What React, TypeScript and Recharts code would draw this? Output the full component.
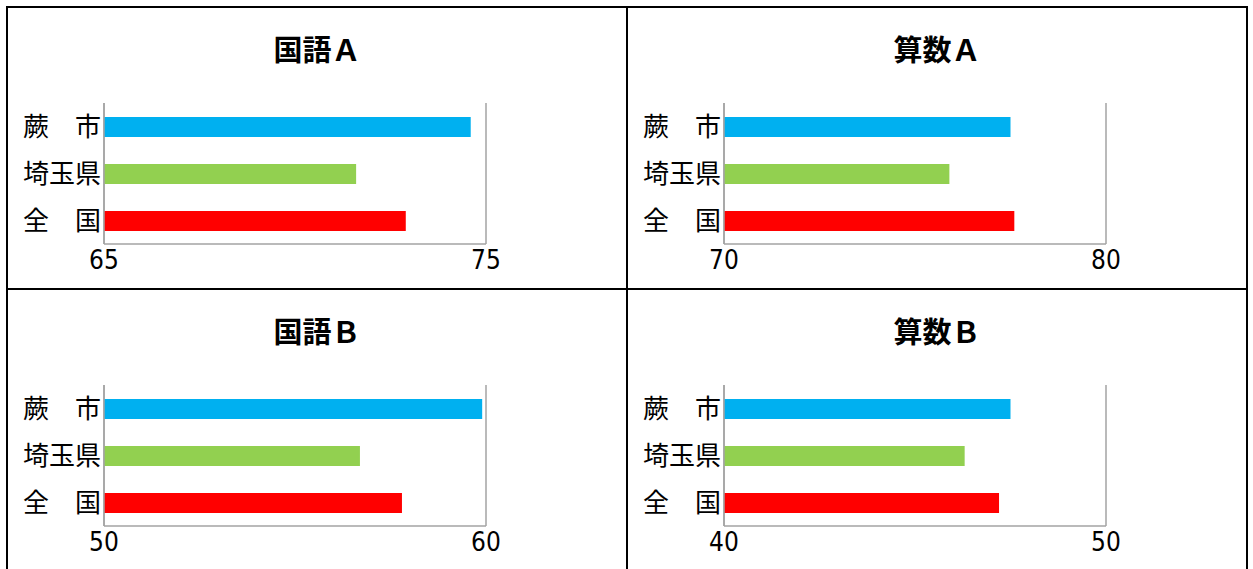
import { BarChart, Bar, XAxis, YAxis, CartesianGrid, Cell } from 'recharts'

const categories = ['蕨　市', '埼玉県', '全　国']
const BAR_COLORS = ['#00B0F0', '#92D050', '#FF0000']

const kokugoA = [74.6, 71.6, 72.9]
const sansuA = [77.5, 75.9, 77.6]
const kokugoB = [59.9, 56.7, 57.8]
const sansuB = [47.5, 46.3, 47.2]

const ticksKokugoA = [65, 75]
const ticksSansuA = [70, 80]
const ticksKokugoB = [50, 60]
const ticksSansuB = [40, 50]

const PANEL_W = 618
const PANEL_H = 280
const AXIS_GRAY = '#a3a3a3'

function Panel({ title, values, ticks, left, top }: { title: string; values: number[]; ticks: number[]; left: number; top: number }) {
  const data = categories.map((name, i) => ({ name, value: values[i] }))
  return (
    <div style={{ position: 'absolute', left, top, width: PANEL_W, height: PANEL_H, background: '#fff' }}>
      <div
        style={{
          position: 'absolute',
          left: 0,
          top: 21,
          width: PANEL_W,
          textAlign: 'center',
          fontFamily: '"Noto Sans CJK JP", sans-serif',
          fontWeight: 700,
          fontSize: 29,
          lineHeight: '38px',
          color: '#000',
        }}
      >
        {title}
      </div>
      <div style={{ position: 'absolute', left: 0, top: 0 }}>
        <BarChart
          width={PANEL_W}
          height={PANEL_H}
          data={data}
          layout="vertical"
          barSize={20}
          margin={{ top: 95, right: 140, bottom: 14, left: 0 }}
        >
          <CartesianGrid horizontal={false} stroke={AXIS_GRAY} strokeWidth={1.5} />
          <XAxis
            type="number"
            domain={[ticks[0], ticks[1]]}
            ticks={ticks}
            allowDataOverflow
            height={30}
            axisLine={{ stroke: AXIS_GRAY, strokeWidth: 1.5 }}
            tickLine={false}
            tickSize={0}
            tickMargin={7}
            tick={{ fontSize: 26, fill: '#000', fontFamily: '"Liberation Sans Narrow", "DejaVu Sans Condensed", sans-serif' }}
          />
          <YAxis
            type="category"
            dataKey="name"
            width={96}
            axisLine={{ stroke: AXIS_GRAY, strokeWidth: 1.5 }}
            tickLine={false}
            tickSize={0}
            tickMargin={3}
            tick={{ fontSize: 26, fill: '#000', fontFamily: '"Noto Sans CJK JP", sans-serif' }}
          />
          <Bar dataKey="value" isAnimationActive={false}>
            {data.map((_, i) => (
              <Cell key={i} fill={BAR_COLORS[i]} />
            ))}
          </Bar>
        </BarChart>
      </div>
    </div>
  )
}

export default function App() {
  return (
    <div style={{ position: 'absolute', left: 6, top: 6, width: 1242, height: 563, overflow: 'hidden' }}>
      <div style={{ position: 'absolute', left: 0, top: 0, width: 1242, height: 566, background: '#000' }} />
      <Panel title="国語Ａ" values={kokugoA} ticks={ticksKokugoA} left={2} top={2} />
      <Panel title="算数Ａ" values={sansuA} ticks={ticksSansuA} left={622} top={2} />
      <Panel title="国語Ｂ" values={kokugoB} ticks={ticksKokugoB} left={2} top={284} />
      <Panel title="算数Ｂ" values={sansuB} ticks={ticksSansuB} left={622} top={284} />
    </div>
  )
}
